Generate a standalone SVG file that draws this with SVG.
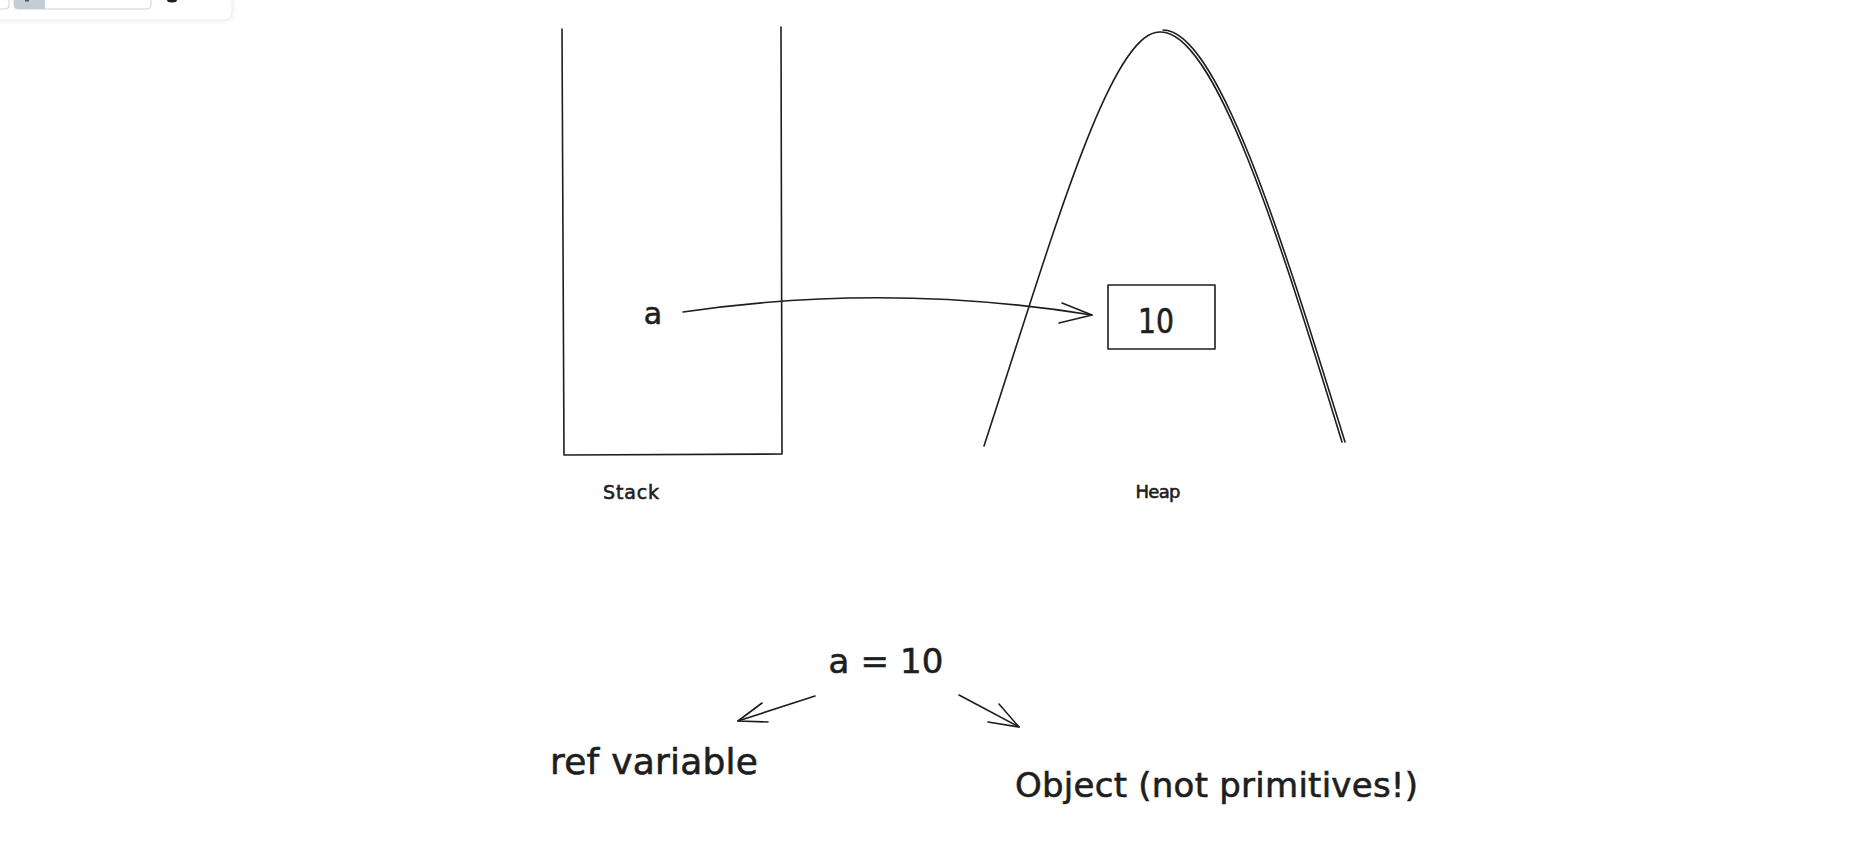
<svg xmlns="http://www.w3.org/2000/svg" width="1872" height="850" viewBox="0 0 1872 850">
<defs>
<style>
.s{fill:none;stroke:#1e1e1e;stroke-width:1.6;stroke-linecap:round;stroke-linejoin:round}
.t{font-family:"DejaVu Sans","Noto Sans",sans-serif;fill:#1e1e1e;stroke:#1e1e1e;stroke-width:0.6}
</style>
<filter id="sh" x="-20%" y="-50%" width="140%" height="200%"><feDropShadow dx="0" dy="1" stdDeviation="2" flood-color="#000" flood-opacity="0.08"/></filter>
</defs>
<rect width="1872" height="850" fill="#fff"/>
<g id="toolbar">
<rect x="-12" y="-12" width="244" height="32" rx="8" fill="#fff" stroke="#ececf0" filter="url(#sh)"/>
<rect x="-20" y="-10" width="29" height="19" rx="4" fill="#fff" stroke="#ced4da"/>
<rect x="14" y="-10" width="137" height="19" rx="4" fill="#fff" stroke="#ced4da"/>
<path d="M14,-10 H45 V9 H18 A4,4 0 0 1 14,5 Z" fill="#c6ccd4"/>
<rect x="25" y="0" width="4" height="1.5" fill="#555"/>
<ellipse cx="172" cy="0" rx="5" ry="2.5" fill="#1e1e1e"/>
</g>
<g id="stack">
<path class="s" d="M562,29 L564,455 L782,454 L781,27"/>
<text class="t" x="631" y="499" font-size="19" stroke-width="0.3" text-anchor="middle" textLength="56">Stack</text>
</g>
<g id="var-a">
<text class="t" x="653" y="324" font-size="30" text-anchor="middle">a</text>
</g>
<g id="heap">
<path class="s" d="M984,446 C1050,245 1110,30 1160,32 C1215,30 1280,240 1342,442"/>
<path class="s" stroke-width="0.8" d="M1163,30 C1218,30 1283,242 1345,442"/>
<text class="t" x="1158" y="498" font-size="18" stroke-width="0.3" text-anchor="middle" textLength="45">Heap</text>
</g>
<g id="box10">
<rect class="s" x="1108" y="285" width="107" height="64"/>
<text class="t" x="1156" y="333" font-size="34" text-anchor="middle" textLength="36" lengthAdjust="spacingAndGlyphs">10</text>
</g>
<g id="expr">
<text class="t" x="886" y="673" font-size="34" text-anchor="middle" textLength="115">a = 10</text>
</g>
<g id="ref-variable">
<text class="t" x="550" y="774" font-size="36" textLength="208">ref variable</text>
</g>
<g id="object">
<text class="t" x="1015" y="797" font-size="34" textLength="403">Object (not primitives!)</text>
</g>
<g id="connectors">
<path class="s" d="M683,312 Q887,282 1092,315"/>
<path class="s" d="M1062,303 L1092,315 L1059,323"/>
<path class="s" stroke-width="2" d="M815,696 L738,721"/>
<path class="s" d="M762,703 L738,721 L768,722"/>
<path class="s" d="M959,695 L1019,727"/>
<path class="s" d="M999,704 L1019,727 L988,722"/>
</g>
</svg>
